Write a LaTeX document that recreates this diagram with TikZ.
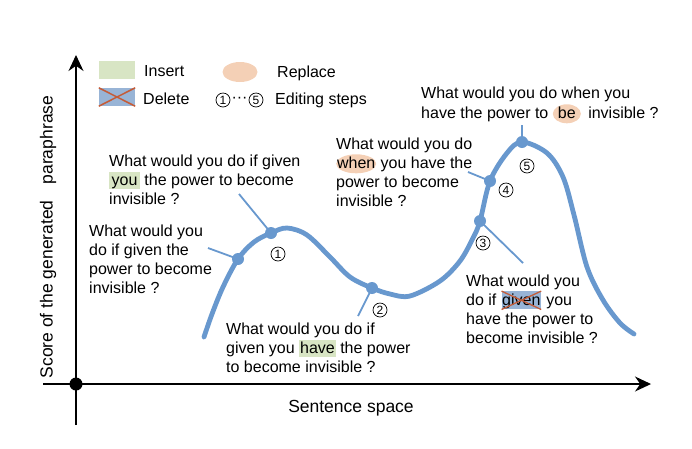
\documentclass[tikz,border=0pt]{standalone}
\usepackage{fontspec}
\setmainfont{Liberation Sans}
\usetikzlibrary{arrows.meta,shapes.geometric}
\definecolor{curveblue}{RGB}{104,152,206}
\definecolor{insgreen}{RGB}{216,229,196}
\definecolor{delblue}{RGB}{152,180,214}
\definecolor{delx}{RGB}{196,92,56}
\definecolor{repl}{RGB}{244,208,182}
\newcommand\txtfont{\fontsize{16}{19}\selectfont}
\newcommand\hlg[2]{\tikz[baseline=0pt,x=1pt,y=1pt]{\node[fill=insgreen,inner xsep=#1,inner ysep=0pt,text height=13pt,text depth=3.5pt,anchor=base](hg){#2};}}
\newcommand\hlx[1]{\tikz[baseline=0pt,x=1pt,y=1pt]{\node[fill=delblue,inner xsep=0.5pt,inner ysep=0pt,text height=14pt,text depth=4pt,anchor=base](hx){#1};\draw[delx,line width=1.3pt](hx.north west)--(hx.south east) (hx.south west)--(hx.north east);}}
\newcommand\hle[2]{\tikz[baseline=0pt,x=1pt,y=1pt]{\fill[repl](0,4.5) ellipse ({#1/2} and 9.5);\node[anchor=base,inner sep=0pt](he){#2};}}
\begin{document}
\begin{tikzpicture}[x=1pt,y=-1pt,
  axis/.style={line width=1.2pt,black},
  curve/.style={line width=4.8pt,curveblue,line cap=round},
  leader/.style={line width=1.8pt,curveblue},
  dotnode/.style={circle,fill=curveblue,minimum size=12pt,inner sep=0pt},
  stepnum/.style={circle,draw=black,line width=0.7pt,minimum size=14pt,inner sep=0pt,font=\fontsize{12}{12}\selectfont},
  txt/.style={anchor=north west,inner sep=0pt,align=left,font=\txtfont},
  lab/.style={anchor=west,inner sep=0pt,font=\txtfont}]
\useasboundingbox (0,0) rectangle (692,448);
% axes
\coordinate (ytop) at (76,55);
\coordinate (ybot) at (76,425);
\coordinate (xl) at (43,384);
\coordinate (xr) at (651,384);
\draw[axis,-{Stealth[length=16pt,width=15pt]}] (ybot) -- (ytop);
\draw[axis,-{Stealth[length=16pt,width=15pt]}] (xl) -- (xr);
\node[circle,fill=black,minimum size=13pt,inner sep=0pt] (orig) at (76,384) {};
\node[font=\fontsize{17.5}{20}\selectfont,inner sep=0pt] (xlab) at (351,408) {Sentence space};
\node[font=\fontsize{17.5}{20}\selectfont,inner sep=0pt,rotate=90] (ylab) at (48,237) {Score of the generated\hspace{16pt}paraphrase};
% legend
\node[fill=insgreen,minimum width=36pt,minimum height=18pt,inner sep=0pt] (lgins) at (117,70) {};
\node[lab] (lginst) at (144,71) {Insert};
\node[fill=delblue,minimum width=36pt,minimum height=18pt,inner sep=0pt] (lgdel) at (117,97) {};
\draw[delx,line width=1.5pt] (lgdel.north west) -- (lgdel.south east) (lgdel.south west) -- (lgdel.north east);
\node[lab] (lgdelt) at (143,99) {Delete};
\node[ellipse,fill=repl,minimum width=35pt,minimum height=20pt,inner sep=0pt] (lgrep) at (240,72) {};
\node[lab] (lgrept) at (277,73) {Replace};
\node[stepnum] (lg1) at (223,100) {1};
\node[inner sep=0pt,font=\txtfont] (lgdots) at (239.5,100) {···};
\node[stepnum] (lg5) at (256,100) {5};
\node[lab] (lgstept) at (275,100) {Editing steps};
% curve
\coordinate (d1) at (238,259);
\coordinate (d2) at (271,233);
\coordinate (d3) at (372,288);
\coordinate (d4) at (480,221);
\coordinate (d5) at (490,181);
\coordinate (d6) at (522,142);
\draw[curve] plot[smooth,tension=0.55] coordinates {(204,337) (212,314) (223,287) (d1) (254,242) (d2) (287,228) (307,235) (330,257) (350,277) (d3) (390,294) (410,296) (440,281) (460,261) (473,238) (d4) (d5) (507,153) (d6) (547,153) (563,177) (574,215) (587,267) (603,300) (620,323) (634,334)};
% leaders
\coordinate (e1) at (208,248);
\coordinate (e2) at (239,194);
\coordinate (e3) at (358,316);
\coordinate (e4) at (523,263);
\coordinate (e5) at (468,172);
\coordinate (e6) at (522,125);
\draw[leader] (d1) -- (e1);
\draw[leader] (d2) -- (e2);
\draw[leader] (d3) -- (e3);
\draw[leader] (d4) -- (e4);
\draw[leader] (d5) -- (e5);
\draw[leader] (d6) -- (e6);
\foreach \d in {d1,d2,d3,d4,d5,d6} \node[dotnode] (n\d) at (\d) {};
% step numbers
\node[stepnum] (s1) at (278,254) {1};
\node[stepnum] (s2) at (380,310) {2};
\node[stepnum] (s3) at (483,243) {3};
\node[stepnum] (s4) at (506,190) {4};
\node[stepnum] (s5) at (527,166) {5};
% texts
\node[txt] (t0) at (89,224.5) {What would you\\do if given the\\power to become\\invisible ?};
\node[txt] (t1) at (109,154.5) {What would you do if given\\\hlg{2.5pt}{you} the power to become\\invisible ?};
\node[txt] (t2) at (226,322.5) {What would you do if\\given you \hlg{1pt}{have} the power\\to become invisible ?};
\node[txt] (t3) at (466,274.5) {What would you\\do if \hlx{given} you\\have the power to\\become invisible ?};
\node[txt] (t4) at (336,137.5) {What would you do\\\hle{40}{when} you have the\\power to become\\invisible ?};
\node[txt] (t5) at (421,86.5) {What would you do when you\\[1pt]have the power to \hle{28}{be}\hspace{3pt} invisible ?};
\end{tikzpicture}
\end{document}
